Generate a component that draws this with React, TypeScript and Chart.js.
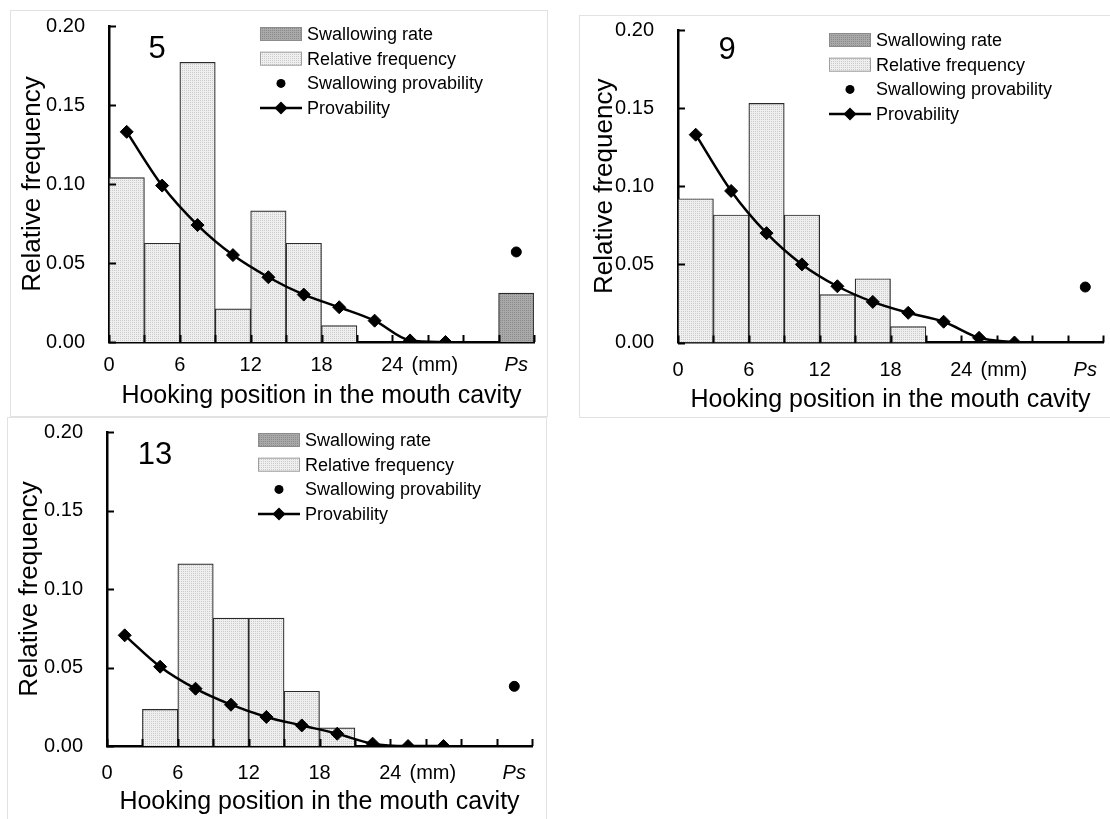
import React, { useEffect, useRef } from 'react';
import { Chart, registerables } from 'chart.js';

Chart.register(...registerables);

// ---------- shared axis data ----------
const BIN_CENTERS = [1.5, 4.5, 7.5, 10.5, 13.5, 16.5, 19.5, 22.5, 25.5, 28.5, 31.5];
const PS_CENTER = 34.5;
const X_TICK_MARKS = [0, 3, 6, 9, 12, 15, 18, 21, 24, 27, 30, 33, 36];
const X_LABEL_VALUES = [0, 6, 12, 18, 24, 27.6, 34.5];
const X_LABELS = ['0', '6', '12', '18', '24', '(mm)', 'Ps'];
const Y_TICKS = [0, 0.05, 0.1, 0.15, 0.2];
const X_TITLE = 'Hooking position in the mouth cavity';
const Y_TITLE = 'Relative frequency';
const LEGEND_LABELS = ['Swallowing rate', 'Relative frequency', 'Swallowing provability', 'Provability'];

// ---------- panel "5" ----------
const FREQ_5 = [0.104, 0.0625, 0.177, 0.021, 0.083, 0.0625, 0.0104, 0, 0, 0, 0];
const PROB_5 = [0.133, 0.099, 0.074, 0.055, 0.041, 0.030, 0.022, 0.0135, 0.001, 0];
const SW_RATE_5 = 0.031;
const SW_PROB_5 = 0.057;

// ---------- panel "9" ----------
const FREQ_9 = [0.092, 0.0816, 0.153, 0.0816, 0.0306, 0.0408, 0.0102, 0, 0, 0, 0];
const PROB_9 = [0.133, 0.097, 0.070, 0.050, 0.036, 0.026, 0.019, 0.0133, 0.003, 0];
const SW_RATE_9 = 0;
const SW_PROB_9 = 0.0355;

// ---------- panel "13" ----------
const FREQ_13 = [0, 0.0233, 0.116, 0.0814, 0.0814, 0.0349, 0.0116, 0, 0, 0, 0];
const PROB_13 = [0.0705, 0.0505, 0.0365, 0.0263, 0.0185, 0.0131, 0.0078, 0.0015, 0, 0];
const SW_RATE_13 = 0;
const SW_PROB_13 = 0.038;

const FONT = '"Liberation Sans", Arial, sans-serif';

type Spec = {
  name: string;
  freq: number[];
  prob: number[];
  swRate: number;
  swProb: number;
  box: { left: number; top: number; width: number; height: number };
  area: { left: number; top: number; right: number; bottom: number };
  tickPad: number;
  xTitlePad: number;
  yTitlePad: number;
  legendTop: number;
  numDx: number;
  numDy: number;
};

const SPECS: Spec[] = [
  {
    name: '5', freq: FREQ_5, prob: PROB_5, swRate: SW_RATE_5, swProb: SW_PROB_5,
    box: { left: 10, top: 10, width: 538, height: 407 },
    area: { left: 99, top: 16, right: 524, bottom: 332 },
    tickPad: 11, xTitlePad: 6, yTitlePad: 7.4, legendTop: 8, numDx: 48, numDy: 23,
  },
  {
    name: '9', freq: FREQ_9, prob: PROB_9, swRate: SW_RATE_9, swProb: SW_PROB_9,
    box: { left: 579, top: 15, width: 533, height: 403 },
    area: { left: 99, top: 15, right: 524, bottom: 327.5 },
    tickPad: 16, xTitlePad: 3, yTitlePad: 10.4, legendTop: 10, numDx: 49, numDy: 20,
  },
  {
    name: '13', freq: FREQ_13, prob: PROB_13, swRate: SW_RATE_13, swProb: SW_PROB_13,
    box: { left: 7, top: 417, width: 540, height: 404 },
    area: { left: 100, top: 15, right: 525, bottom: 329 },
    tickPad: 15, xTitlePad: 4.3, yTitlePad: 7.4, legendTop: 8, numDx: 48, numDy: 23,
  },
];

function makePattern(base: string, dot: string): CanvasPattern | string {
  const c = document.createElement('canvas');
  c.width = 2;
  c.height = 2;
  const g = c.getContext('2d');
  if (!g) return base;
  g.fillStyle = base;
  g.fillRect(0, 0, 2, 2);
  g.fillStyle = dot;
  g.fillRect(0, 0, 1, 1);
  const p = g.createPattern(c, 'repeat');
  return p || base;
}

function drawDiamond(ctx: CanvasRenderingContext2D, x: number, y: number, r: number) {
  ctx.beginPath();
  ctx.moveTo(x, y - r);
  ctx.lineTo(x + r, y);
  ctx.lineTo(x, y + r);
  ctx.lineTo(x - r, y);
  ctx.closePath();
  ctx.fill();
}

function Panel({ spec }: { spec: Spec }) {
  const ref = useRef<HTMLCanvasElement | null>(null);

  useEffect(() => {
    const canvas = ref.current;
    if (!canvas) return;
    const light = makePattern('#efefef', '#cacaca');
    const dark = makePattern('#a9a9a9', '#8a8a8a');
    const { area, box } = spec;

    const decor = {
      id: 'decor' + spec.name,
      afterDraw(chart: any) {
        const { ctx, chartArea, scales } = chart;
        const xs = scales.x;
        const ys = scales.y;
        ctx.save();
        // inward tick marks
        ctx.strokeStyle = '#000';
        ctx.lineWidth = 2;
        X_TICK_MARKS.forEach((v) => {
          const px = Math.round(xs.getPixelForValue(v)) + 0.5;
          ctx.beginPath();
          ctx.moveTo(px, chartArea.bottom);
          ctx.lineTo(px, chartArea.bottom - 7);
          ctx.stroke();
        });
        Y_TICKS.forEach((v) => {
          const py = Math.round(ys.getPixelForValue(v)) + 0.5;
          ctx.beginPath();
          ctx.moveTo(chartArea.left, py);
          ctx.lineTo(chartArea.left + 7, py);
          ctx.stroke();
        });
        // panel number
        ctx.fillStyle = '#000';
        ctx.font = `31px ${FONT}`;
        ctx.textAlign = 'center';
        ctx.textBaseline = 'middle';
        ctx.fillText(spec.name, chartArea.left + spec.numDx, chartArea.top + spec.numDy);
        // legend
        const x0 = chartArea.left + 151;
        const rows = [0, 24.7, 49.4, 74.1].map((d) => chartArea.top + spec.legendTop + d);
        ctx.font = `18px ${FONT}`;
        ctx.textAlign = 'left';
        ctx.fillStyle = dark as any;
        ctx.fillRect(x0, rows[0] - 7, 42, 14);
        ctx.strokeStyle = '#8c8c8c';
        ctx.lineWidth = 1;
        ctx.strokeRect(x0 + 0.5, rows[0] - 6.5, 41, 13);
        ctx.fillStyle = light as any;
        ctx.fillRect(x0, rows[1] - 7, 42, 14);
        ctx.strokeStyle = '#a0a0a0';
        ctx.strokeRect(x0 + 0.5, rows[1] - 6.5, 41, 13);
        ctx.fillStyle = '#000';
        ctx.beginPath();
        ctx.arc(x0 + 21, rows[2], 4.5, 0, Math.PI * 2);
        ctx.fill();
        ctx.strokeStyle = '#000';
        ctx.lineWidth = 2.5;
        ctx.beginPath();
        ctx.moveTo(x0, rows[3]);
        ctx.lineTo(x0 + 42, rows[3]);
        ctx.stroke();
        drawDiamond(ctx, x0 + 21, rows[3], 6.5);
        ctx.fillStyle = '#000';
        LEGEND_LABELS.forEach((t, i) => ctx.fillText(t, x0 + 47, rows[i] + 1));
        ctx.restore();
      },
    };

    const chart = new Chart(canvas, {
      type: 'bar',
      data: {
        datasets: [
          {
            type: 'line',
            label: LEGEND_LABELS[3],
            data: spec.prob.map((v, i) => ({ x: BIN_CENTERS[i], y: v })),
            borderColor: '#000',
            borderWidth: 2.5,
            pointStyle: 'rectRot',
            pointRadius: 6.5,
            pointBackgroundColor: '#000',
            pointBorderColor: '#000',
            pointBorderWidth: 1,
            cubicInterpolationMode: 'monotone',
            fill: false,
            order: 0,
          } as any,
          {
            type: 'scatter',
            label: LEGEND_LABELS[2],
            data: [{ x: PS_CENTER, y: spec.swProb }],
            pointRadius: 5,
            backgroundColor: '#000',
            borderColor: '#000',
            order: 1,
          } as any,
          {
            type: 'bar',
            label: LEGEND_LABELS[1],
            data: spec.freq.map((v, i) => ({ x: BIN_CENTERS[i], y: v })),
            backgroundColor: light,
            borderColor: '#2a2a2a',
            borderWidth: 1.2,
            grouped: false,
            barPercentage: 1,
            categoryPercentage: 1,
            order: 2,
          } as any,
          {
            type: 'bar',
            label: LEGEND_LABELS[0],
            data: spec.swRate > 0 ? [{ x: PS_CENTER, y: spec.swRate }] : [],
            backgroundColor: dark,
            borderColor: '#2a2a2a',
            borderWidth: 1.2,
            grouped: false,
            barPercentage: 1,
            categoryPercentage: 1,
            order: 3,
          } as any,
        ],
      },
      options: {
        responsive: false,
        animation: false,
        devicePixelRatio: 1,
        layout: {
          autoPadding: false,
          padding: { left: 0, top: area.top, right: box.width - area.right, bottom: 0 },
        },
        plugins: {
          legend: { display: false },
          tooltip: { enabled: false },
        },
        scales: {
          x: {
            type: 'linear',
            min: 0,
            max: 36,
            offset: false,
            z: 1,
            grid: { display: false, drawTicks: false, offset: false },
            border: { display: true, color: '#000', width: 2.5 },
            afterBuildTicks: (s: any) => {
              s.ticks = X_LABEL_VALUES.map((v) => ({ value: v }));
            },
            afterFit: (s: any) => {
              s.height = box.height - area.bottom;
              s.paddingLeft = 0;
              s.paddingRight = 0;
              s.paddingTop = 0;
              s.paddingBottom = 0;
            },
            ticks: {
              autoSkip: false,
              maxRotation: 0,
              minRotation: 0,
              padding: spec.tickPad,
              color: '#000',
              font: (c: any) => ({
                family: FONT,
                size: 20,
                style: c.tick && c.tick.value === PS_CENTER ? 'italic' : 'normal',
              }),
              callback: (v: any) => {
                const i = X_LABEL_VALUES.indexOf(Number(v));
                return i >= 0 ? X_LABELS[i] : '';
              },
            },
            title: {
              display: true,
              text: X_TITLE,
              color: '#000',
              font: { family: FONT, size: 25 },
              padding: { top: 0, bottom: spec.xTitlePad },
            },
          },
          y: {
            type: 'linear',
            min: 0,
            max: 0.2,
            z: 1,
            grid: { display: false, drawTicks: false },
            border: { display: true, color: '#000', width: 2.5 },
            afterBuildTicks: (s: any) => {
              s.ticks = Y_TICKS.map((v) => ({ value: v }));
            },
            afterFit: (s: any) => {
              s.width = area.left;
              s.paddingLeft = 0;
              s.paddingRight = 0;
              s.paddingTop = 0;
              s.paddingBottom = 0;
            },
            ticks: {
              padding: 24,
              color: '#000',
              font: { family: FONT, size: 20 },
              callback: (v: any) => Number(v).toFixed(2),
            },
            title: {
              display: true,
              text: Y_TITLE,
              color: '#000',
              font: { family: FONT, size: 26 },
              padding: { top: spec.yTitlePad, bottom: 0 },
            },
          },
        },
      },
      plugins: [decor as any],
    });

    return () => chart.destroy();
  }, [spec]);

  const { box } = spec;
  return (
    <div
      style={{
        position: 'absolute',
        left: box.left,
        top: box.top,
        width: box.width,
        height: box.height,
        boxSizing: 'border-box',
        border: '1px solid #e2e2e2',
        background: '#fff',
      }}
    >
      <canvas
        ref={ref}
        width={box.width}
        height={box.height}
        style={{ position: 'absolute', left: -1, top: -1, width: box.width, height: box.height }}
      />
    </div>
  );
}

export default function App() {
  return (
    <div
      style={{
        position: 'fixed',
        left: 0,
        top: 0,
        width: 1110,
        height: 819,
        overflow: 'hidden',
        background: '#fff',
      }}
    >
      {SPECS.map((s) => (
        <Panel key={s.name} spec={s} />
      ))}
    </div>
  );
}
